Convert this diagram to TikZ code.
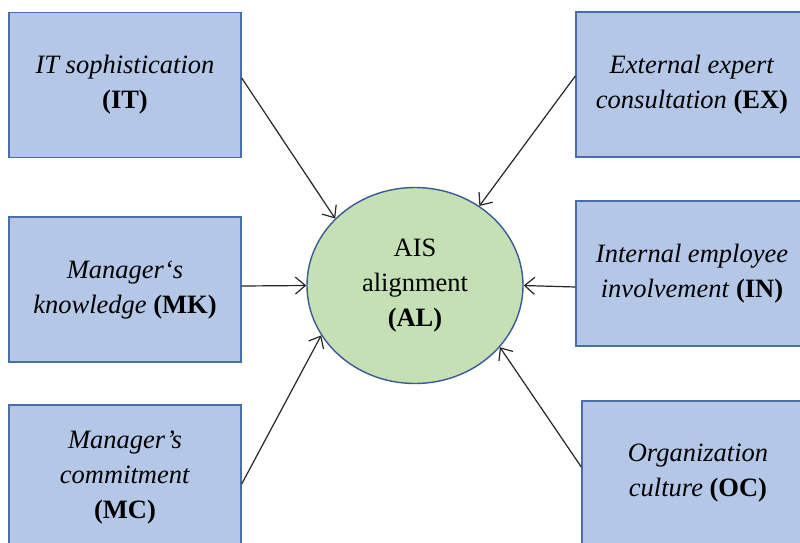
\documentclass[tikz,border=0pt]{standalone}
\usepackage{fontspec}
\setmainfont{Liberation Serif}
\usetikzlibrary{arrows.meta,shapes.geometric}
\definecolor{boxfill}{HTML}{B4C7E7}
\definecolor{boxline}{HTML}{4A6FA8}
\definecolor{circfill}{HTML}{C5E0B4}
\definecolor{circline}{HTML}{3A5A96}
\begin{document}
\begin{tikzpicture}[x=1pt,y=-1pt,
  factor/.style={draw=boxline, fill=boxfill, line width=1.4pt,
    minimum width=232pt, minimum height=145pt, inner sep=0pt,
    align=center, font=\fontsize{26.5}{35}\selectfont},
  target/.style={ellipse, draw=circline, fill=circfill, line width=1.4pt,
    minimum width=216pt, minimum height=196pt, inner sep=0pt,
    align=center, font=\fontsize{26.5}{35}\selectfont},
  link/.style={line width=1.2pt, black!85,
    -{Straight Barb[length=10pt,width=17pt,line width=1.2pt]}}]
\clip (0,0) rectangle (800,542);
\fill[white] (0,0) rectangle (800,542);

\node[factor] (IT) at (125,85) {\textit{IT sophistication}\\\textbf{(IT)}};
\node[factor] (EX) at (692,84.5) {\textit{External expert}\\\textit{consultation} \textbf{(EX)}};
\node[factor] (MK) at (125,289.5) {\textit{Manager‘s}\\\textit{knowledge} \textbf{(MK)}};
\node[factor] (IN) at (692,273.5) {\textit{Internal employee}\\\textit{involvement} \textbf{(IN)}};
\node[factor] (MC) at (125,477.5) {\textit{Manager’s}\\\textit{commitment}\\\textbf{(MC)}};
\node[factor] (OC) at (698,473.5) {\textit{Organization}\\\textit{culture} \textbf{(OC)}};

\node[target] (AL) at (415,285.5) {AIS\\alignment\\\textbf{(AL)}};

\draw[link] ([yshift=7pt]IT.east) -- (AL.140);
\draw[link] ([yshift=8.5pt]EX.west) -- (AL.51);
\draw[link] ([yshift=3.5pt]MK.east) -- (AL.180);
\draw[link] ([yshift=-13.5pt]IN.west) -- (AL.0);
\draw[link] ([yshift=-6.5pt]MC.east) -- (AL.208);
\draw[link] ([yshift=6.5pt]OC.west) -- (AL.324);
\end{tikzpicture}
\end{document}
